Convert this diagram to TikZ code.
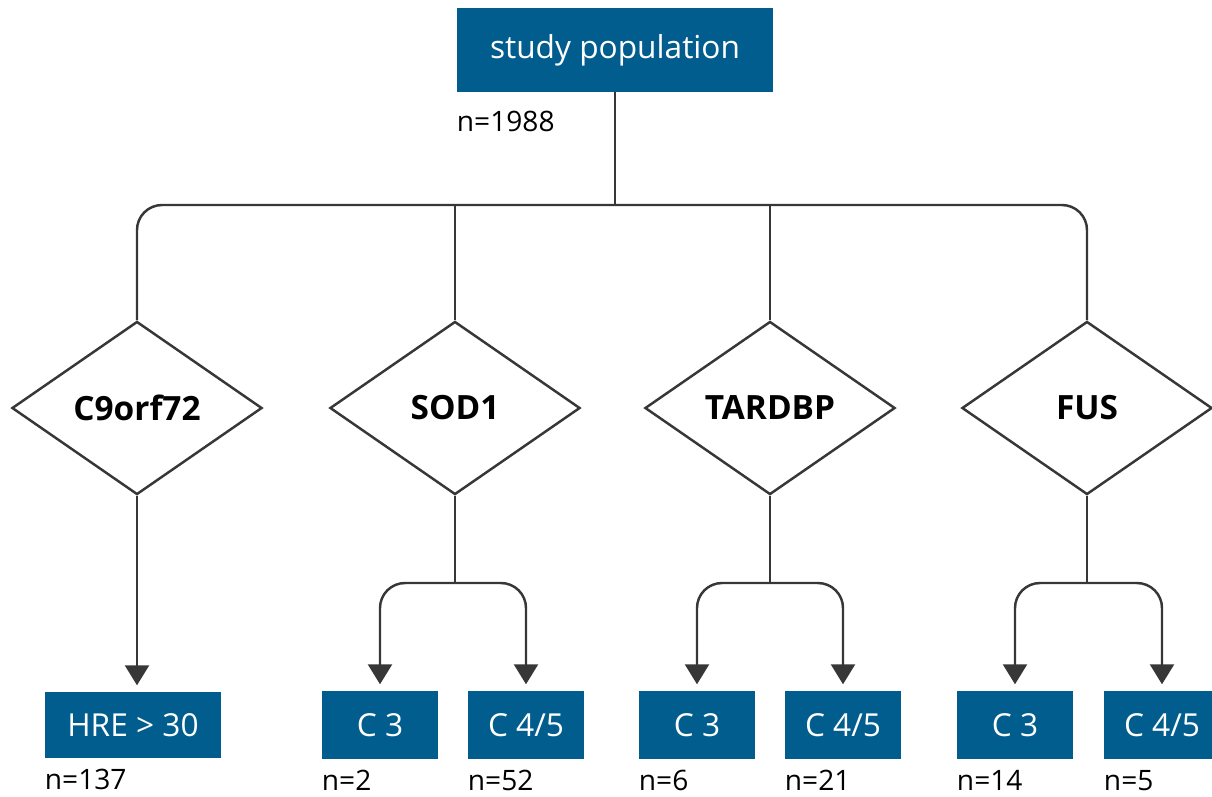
\documentclass[tikz,border=0pt]{standalone}
\usepackage{fontspec}
\setmainfont{Open Sans}
\usetikzlibrary{shapes.geometric,arrows.meta,positioning}
\definecolor{boxblue}{RGB}{0,93,142}
\definecolor{linegray}{RGB}{55,55,55}

\begin{document}
\begin{tikzpicture}[
    x=0.01cm, y=-0.01cm,
    box/.style={rectangle, fill=boxblue, text=white, font=\fontsize{9}{11}\selectfont, minimum width=1.16cm, minimum height=0.68cm, inner sep=0pt},
    gene/.style={diamond, draw=linegray, line width=0.7pt, font=\fontsize{9.5}{11}\selectfont\bfseries, minimum width=2.5cm, minimum height=1.73cm, inner sep=0pt},
    count/.style={font=\fontsize{8}{10}\selectfont, inner sep=0pt, anchor=base west},
    link/.style={draw=linegray, line width=0.7pt, rounded corners=0.25cm},
    arrow/.style={link, -{Triangle[width=0.24cm,length=0.2cm]}, shorten >=0.06cm}
]
\useasboundingbox (0,0) rectangle (1212,796);

\node[box, minimum width=3.16cm, minimum height=0.83cm] (pop) at (615,50) {study population};
\node[count] (npop) at ([yshift=-0.39cm]pop.south west) {n=1988};

% genes
\node[gene] (c9) at (137,408) {C9orf72};
\node[gene] (sod) at (455,408) {SOD1};
\node[gene] (tar) at (770,408) {TARDBP};
\node[gene] (fus) at (1087,408) {FUS};

\coordinate (hub) at (615,205);
\coordinate (split) at (0,583);

% outcomes
\node[box, minimum width=1.76cm, minimum height=0.66cm] (c9-hre) at (133,725) {HRE > 30};
\node[box] (sod-c3) at (380,725) {C 3};
\node[box] (sod-c45) at (526,725) {C 4/5};
\node[box] (tar-c3) at (697,725) {C 3};
\node[box] (tar-c45) at (843,725) {C 4/5};
\node[box] (fus-c3) at (1015,725) {C 3};
\node[box] (fus-c45) at (1162,725) {C 4/5};

\node[count] at ([yshift=-0.31cm]c9-hre.south west) {n=137};
\node[count] at ([yshift=-0.31cm]sod-c3.south west) {n=2};
\node[count] at ([yshift=-0.31cm]sod-c45.south west) {n=52};
\node[count] at ([yshift=-0.31cm]tar-c3.south west) {n=6};
\node[count] at ([yshift=-0.31cm]tar-c45.south west) {n=21};
\node[count] at ([yshift=-0.31cm]fus-c3.south west) {n=14};
\node[count] at ([yshift=-0.31cm]fus-c45.south west) {n=5};

% connectors
\draw[link] (pop.south) -- (hub);
\draw[link] (c9.north) -- (c9.north |- hub) -- (fus.north |- hub) -- (fus.north);
\draw[link] (sod.north) -- (sod.north |- hub);
\draw[link] (tar.north) -- (tar.north |- hub);

\draw[arrow] (c9.south) -- (c9.south |- c9-hre.north);
\foreach \g in {sod,tar,fus} {
  \draw[link] (\g.south) -- (\g.south |- split) coordinate (\g-j);
  \draw[arrow] (\g-j) -| (\g-c3.north);
  \draw[arrow] (\g-j) -| (\g-c45.north);
}

\end{tikzpicture}
\end{document}
